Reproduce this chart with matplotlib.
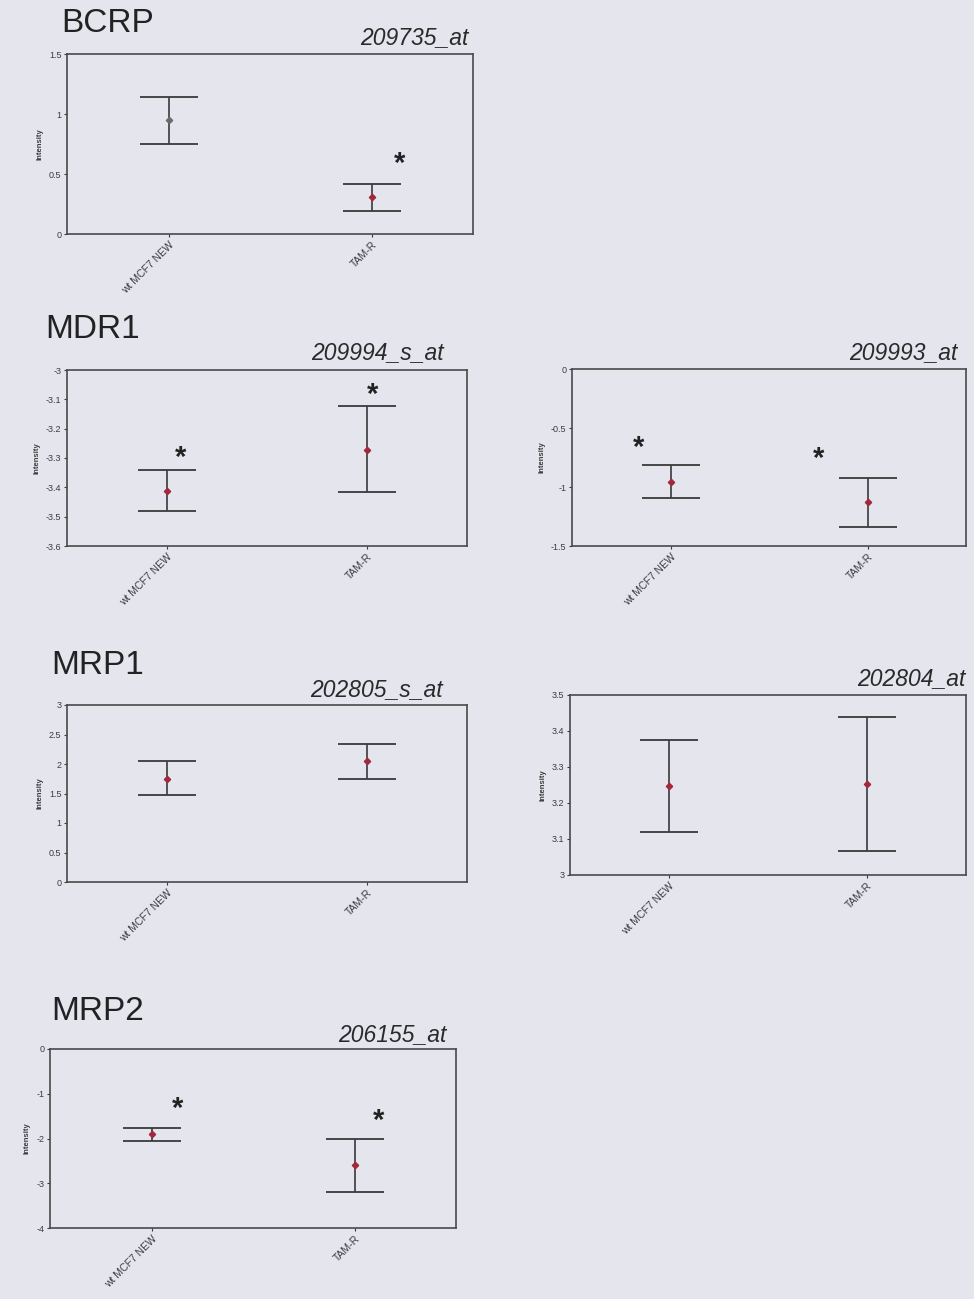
import matplotlib
matplotlib.use("Agg")
import matplotlib.pyplot as plt
import numpy as np

plt.rcParams["font.family"] = ["Liberation Sans", "DejaVu Sans"]

W, H = 974, 1299
BG = "#e5e5ee"
INK = "#3a3a3a"
RED = "#a3283e"

groups = ["wt MCF7 NEW", "TAM-R"]

# BCRP 209735_at
bcrp_mean = [0.95, 0.31]
bcrp_low = [0.75, 0.19]
bcrp_high = [1.14, 0.42]

# MDR1 209994_s_at
mdr1a_mean = [-3.413, -3.273]
mdr1a_low = [-3.481, -3.416]
mdr1a_high = [-3.341, -3.123]

# MDR1 209993_at
mdr1b_mean = [-0.96, -1.13]
mdr1b_low = [-1.09, -1.34]
mdr1b_high = [-0.81, -0.92]

# MRP1 202805_s_at
mrp1a_mean = [1.75, 2.05]
mrp1a_low = [1.47, 1.75]
mrp1a_high = [2.05, 2.34]

# MRP1 202804_at
mrp1b_mean = [3.247, 3.253]
mrp1b_low = [3.119, 3.067]
mrp1b_high = [3.375, 3.439]

# MRP2 206155_at
mrp2_mean = [-1.90, -2.59]
mrp2_low = [-2.06, -3.20]
mrp2_high = [-1.77, -2.01]

fig = plt.figure(figsize=(W / 100, H / 100), dpi=100, facecolor=BG)


def px_axes(left, top, right, bottom):
    return fig.add_axes([left / W, 1 - bottom / H, (right - left) / W, (bottom - top) / H])


def panel(box, mean, low, high, ylim, yticks, ylabels, probe, probe_xy,
          stars=(), marker_colors=(RED, RED)):
    ax = px_axes(*box)
    ax.set_facecolor(BG)
    x = np.arange(len(groups))
    mean = np.asarray(mean)
    err = [mean - np.asarray(low), np.asarray(high) - mean]
    ax.errorbar(x, mean, yerr=err, fmt="none", ecolor=INK, elinewidth=1.2,
                capsize=21, capthick=1.3)
    for xi, m, c in zip(x, mean, marker_colors):
        ax.plot(xi, m, marker="D", ms=3.2, color=c, mec=c, zorder=3)
    ax.set_xlim(-0.5, 1.5)
    ax.set_ylim(*ylim)
    ax.set_yticks(yticks)
    ax.set_yticklabels(ylabels)
    ax.set_xticks(x)
    ax.set_xticklabels(groups, rotation=45, ha="right", va="top",
                       rotation_mode="anchor")
    ax.tick_params(axis="both", colors=INK, length=2.5, width=0.8, pad=1.5)
    ax.tick_params(axis="y", labelsize=6.5)
    ax.tick_params(axis="x", labelsize=7.5)
    for lab in ax.get_xticklabels() + ax.get_yticklabels():
        lab.set_color("#3c3c3c")
    for s in ax.spines.values():
        s.set_color("#4a4a4a")
        s.set_linewidth(1.2)
    ax.set_ylabel("Intensity", fontsize=5.5, fontweight="bold", color="#3c3c3c",
                  labelpad=4)
    for sx, sy in stars:
        ax.text(sx, sy, "*", fontsize=21, fontweight="bold", color="#222222",
                ha="center", va="center")
    fig.text(probe_xy[0] / W, 1 - probe_xy[1] / H, probe, fontsize=16.5,
             style="italic", color="#2a2a2a", ha="right", va="center")
    return ax


def heading(text, xpx, ypx):
    fig.text(xpx / W, 1 - ypx / H, text, fontsize=24, color="#222222",
             ha="left", va="center")


# BCRP
heading("BCRP", 61, 23)
panel((67, 54, 473, 234), bcrp_mean, bcrp_low, bcrp_high, (0, 1.5),
      [0, 0.5, 1, 1.5], ["0", "0.5", "1", "1.5"], "209735_at", (469, 38),
      stars=[(1.14, 0.58)], marker_colors=("#6a6a6a", RED))

# MDR1
heading("MDR1", 45, 329)
panel((67, 370, 467, 546), mdr1a_mean, mdr1a_low, mdr1a_high, (-3.6, -3.0),
      [-3.6, -3.5, -3.4, -3.3, -3.2, -3.1, -3.0],
      ["-3.6", "-3.5", "-3.4", "-3.3", "-3.2", "-3.1", "-3"],
      "209994_s_at", (444, 353),
      stars=[(0.07, -3.30), (1.03, -3.085)])
panel((572, 369, 966, 546), mdr1b_mean, mdr1b_low, mdr1b_high, (-1.5, 0),
      [-1.5, -1, -0.5, 0], ["-1.5", "-1", "-0.5", "0"], "209993_at", (958, 353),
      stars=[(-0.16, -0.665), (0.75, -0.76)])

# MRP1
heading("MRP1", 51, 665)
panel((67, 705, 467, 882), mrp1a_mean, mrp1a_low, mrp1a_high, (0, 3),
      [0, 0.5, 1, 1.5, 2, 2.5, 3], ["0", "0.5", "1", "1.5", "2", "2.5", "3"],
      "202805_s_at", (443, 690))
panel((570, 695, 966, 875), mrp1b_mean, mrp1b_low, mrp1b_high, (3.0, 3.5),
      [3.0, 3.1, 3.2, 3.3, 3.4, 3.5], ["3", "3.1", "3.2", "3.3", "3.4", "3.5"],
      "202804_at", (966, 679))

# MRP2
heading("MRP2", 51, 1011)
panel((50, 1049, 456, 1228), mrp2_mean, mrp2_low, mrp2_high, (-4, 0),
      [-4, -3, -2, -1, 0], ["-4", "-3", "-2", "-1", "0"], "206155_at", (447, 1035),
      stars=[(0.126, -1.33), (1.12, -1.60)])

fig.savefig("out.png", dpi=100, facecolor=BG)
